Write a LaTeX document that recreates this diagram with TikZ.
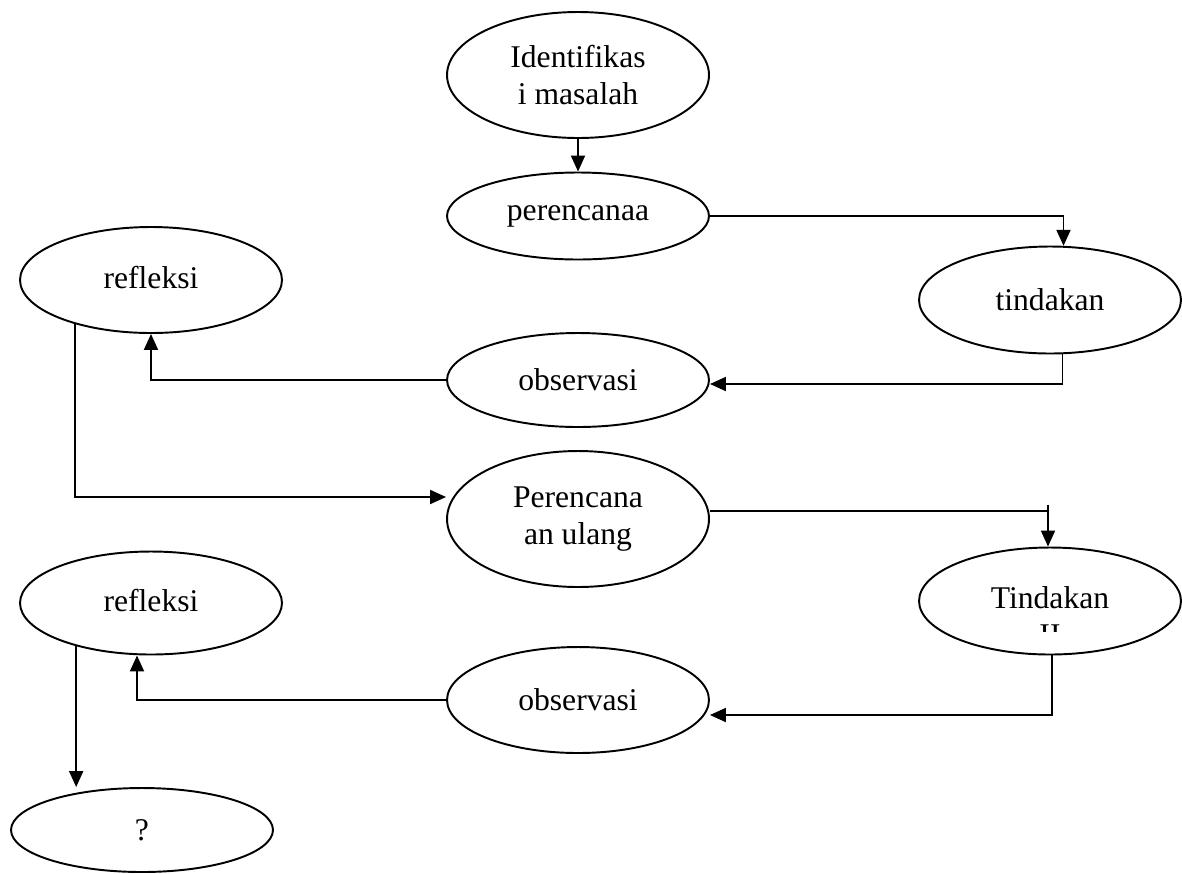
\documentclass[tikz,border=0pt]{standalone}
\usepackage{fontspec}
\setmainfont{Liberation Serif}
\usetikzlibrary{shapes.geometric, arrows.meta}

\begin{document}
\begin{tikzpicture}[x=0.02cm, y=-0.02cm, line width=1.1pt,
  oval/.style={draw, ellipse, minimum width=5.24cm, inner sep=0pt, align=center, font=\fontsize{18}{21}\selectfont},
  arr/.style={-{Triangle[length=0.32cm, width=0.28cm]}}]
\useasboundingbox (0,0) rectangle (1182,873);
\node[oval, minimum height=2.52cm] (ident) at (578,75) {Identifikas\\i masalah};
\node[oval, minimum height=1.74cm] (peren) at (578,216) {perencanaa};
\node[oval, minimum height=2.12cm, text depth=0.3em] (refl1) at (151,280) {refleksi};
\node[oval, minimum height=2.14cm] (tind1) at (1050,300) {tindakan};
\node[oval, minimum height=1.88cm] (obs1) at (578,380) {observasi};
\node[oval, minimum height=2.72cm] (ulang) at (578,519) {Perencana\\an ulang};
\node[oval, minimum height=2.06cm, text depth=0.3em] (refl2) at (151,603) {refleksi};
\node[oval, minimum height=2.14cm] (tind2) at (1050,601) {};
\begin{scope}
\clip (900,560) rectangle (1182,631);
\node[align=center, font=\fontsize{18}{21}\selectfont] (tind2txt) at (1050,616) {Tindakan\\II};
\end{scope}
\node[oval, minimum height=2.12cm] (obs2) at (578,700) {observasi};
\node[oval, minimum height=1.68cm] (q) at (142,830) {?};
\coordinate (tick2) at (1048,505);
\draw [arr] (ident.south) -- (peren.north);
\draw [arr] (peren.east) -| (tind1.76);
\draw [arr] (tind1.-77) |- ([yshift=-0.08cm]obs1.east);
\draw [arr] (obs1.west) -| (refl1.south);
\draw [arr] (refl1.-150) |- ([yshift=0.44cm]ulang.west);
\draw ([yshift=0.16cm]ulang.east) -- ([yshift=0.16cm]ulang.east -| tick2);
\draw [arr] (tick2) -- (tick2 |- tind2.north);
\draw [arr] (tind2.-88) |- ([yshift=-0.3cm]obs2.east);
\draw [arr] (obs2.west) -| ([xshift=-0.28cm]refl2.south);
\draw [arr] (refl2.-150) -- (refl2.-150 |- q.north);
\end{tikzpicture}
\end{document}
